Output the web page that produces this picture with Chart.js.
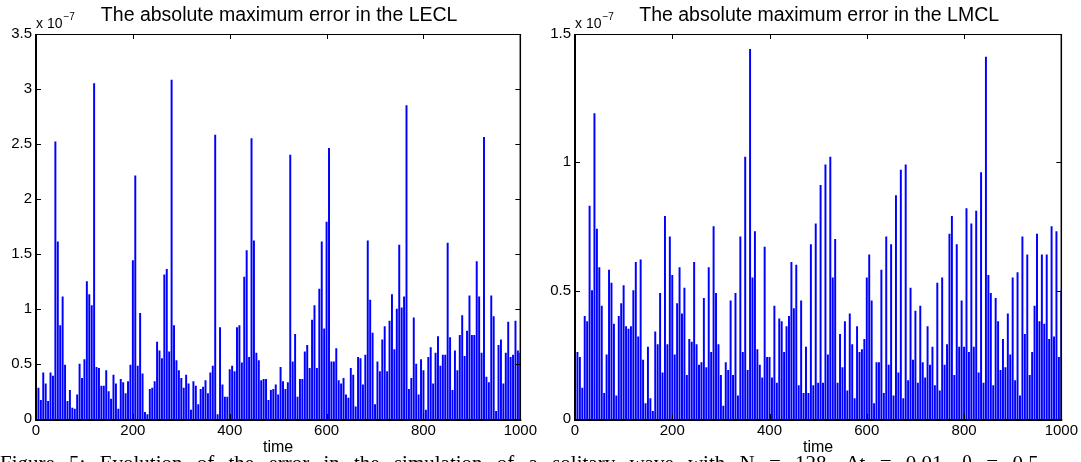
<!DOCTYPE html>
<html>
<head>
<meta charset="utf-8">
<script src="https://cdn.jsdelivr.net/npm/chart.js@4.4.1/dist/chart.umd.min.js"></script>
<style>
  body { margin: 0; background: #fff; width: 1081px; height: 462px; overflow: hidden; position: relative; }
  canvas { position: absolute; top: 0; }
  #leftChart { left: 0; }
  #rightChart { left: 540px; }
  #caption {
    position: absolute; left: 0; top: 453px; white-space: nowrap;
    font-family: "Liberation Serif", "DejaVu Serif", serif; font-size: 21px; line-height: 21px;
    word-spacing: 9px; color: #000;
  }
</style>
</head>
<body>
<canvas id="leftChart" width="540" height="462"></canvas>
<canvas id="rightChart" width="541" height="462"></canvas>
<div id="caption">Figure 5: Evolution of the error in the simulation of a solitary wave with N = 128, Δt = 0.01, θ = 0.5</div>
<script>
// time steps: one spike every 5 time units
const times = [];
for (let t = 5; t <= 1000; t += 5) times.push(t);

const xTicks = [0, 200, 400, 600, 800, 1000];
const leftTicks = [0, 0.5, 1, 1.5, 2, 2.5, 3, 3.5];
const rightTicks = [0, 0.5, 1, 1.5];

// absolute maximum error, units of 1e-7
const lecl = [
  0.28, 0.17, 0.42, 0.32, 0.16, 0.42, 0.39, 2.52, 1.61, 0.85,
  1.11, 0.49, 0.16, 0.26, 0.10, 0.09, 0.22, 0.50, 0.37, 0.54,
  1.25, 1.13, 1.03, 3.05, 0.47, 0.46, 0.30, 0.30, 0.44, 0.25,
  0.18, 0.40, 0.32, 0.09, 0.36, 0.33, 0.23, 0.34, 0.49, 1.44,
  2.21, 0.48, 0.96, 0.41, 0.06, 0.04, 0.27, 0.28, 0.34, 0.70,
  0.62, 0.55, 1.31, 1.36, 0.61, 3.08, 0.85, 0.53, 0.44, 0.37,
  0.28, 0.40, 0.32, 0.08, 0.34, 0.30, 0.13, 0.27, 0.29, 0.35,
  0.23, 0.42, 0.48, 2.58, 0.04, 0.83, 0.31, 0.20, 0.20, 0.45,
  0.48, 0.43, 0.83, 0.85, 0.51, 1.29, 1.53, 0.56, 2.55, 1.62,
  0.60, 0.53, 0.35, 0.36, 0.36, 0.17, 0.26, 0.27, 0.31, 0.22,
  0.47, 0.34, 0.27, 0.33, 2.40, 0.52, 0.77, 0.20, 0.36, 0.36,
  0.61, 0.67, 0.46, 0.90, 1.03, 0.46, 1.18, 1.61, 0.82, 1.79,
  2.46, 0.52, 0.52, 0.64, 0.35, 0.32, 0.37, 0.22, 0.19, 0.46,
  0.40, 0.11, 0.56, 0.55, 0.31, 0.58, 1.62, 1.08, 0.78, 0.13,
  0.52, 0.43, 0.72, 0.84, 0.43, 0.89, 1.13, 0.63, 1.00, 1.58,
  1.01, 1.11, 2.85, 0.27, 0.37, 0.92, 0.50, 0.22, 0.54, 0.44,
  0.08, 0.56, 0.65, 0.32, 0.60, 0.75, 0.48, 0.58, 0.58, 1.60,
  0.74, 0.26, 0.62, 0.44, 0.76, 0.94, 0.57, 0.80, 1.12, 0.76,
  0.76, 1.43, 1.11, 0.60, 2.56, 0.38, 0.33, 1.12, 0.93, 0.07,
  0.67, 0.72, 0.32, 0.60, 0.88, 0.56, 0.58, 0.89, 0.62, 0.60
];

const lmcl = [
  0.26, 0.24, 0.12, 0.40, 0.38, 0.83, 0.50, 1.19, 0.74, 0.59,
  0.44, 0.10, 0.25, 0.58, 0.53, 0.37, 0.09, 0.40, 0.45, 0.52,
  0.36, 0.35, 0.36, 0.50, 0.61, 0.32, 0.62, 0.23, 0.06, 0.28,
  0.08, 0.03, 0.34, 0.29, 0.49, 0.18, 0.79, 0.29, 0.71, 0.56,
  0.25, 0.45, 0.59, 0.41, 0.51, 0.17, 0.31, 0.30, 0.61, 0.29,
  0.21, 0.22, 0.47, 0.20, 0.59, 0.26, 0.75, 0.49, 0.29, 0.17,
  0.05, 0.22, 0.19, 0.46, 0.17, 0.49, 0.09, 0.71, 0.26, 1.02,
  0.19, 1.44, 0.55, 0.73, 0.27, 0.21, 0.16, 0.67, 0.24, 0.24,
  0.16, 0.44, 0.14, 0.39, 0.38, 0.26, 0.36, 0.40, 0.61, 0.43,
  0.60, 0.13, 0.46, 0.10, 0.28, 0.10, 0.68, 0.13, 0.76, 0.14,
  0.91, 0.14, 0.99, 0.25, 1.02, 0.55, 0.70, 0.14, 0.33, 0.20,
  0.38, 0.11, 0.41, 0.29, 0.08, 0.36, 0.26, 0.27, 0.31, 0.55,
  0.64, 0.46, 0.06, 0.22, 0.22, 0.58, 0.10, 0.71, 0.21, 0.68,
  0.09, 0.87, 0.18, 0.97, 0.08, 0.99, 0.15, 0.51, 0.23, 0.42,
  0.14, 0.44, 0.22, 0.16, 0.36, 0.21, 0.28, 0.13, 0.53, 0.11,
  0.55, 0.21, 0.29, 0.72, 0.79, 0.17, 0.68, 0.28, 0.46, 0.28,
  0.82, 0.26, 0.76, 0.28, 0.81, 0.18, 0.96, 0.14, 1.41, 0.56,
  0.49, 0.13, 0.47, 0.38, 0.19, 0.31, 0.20, 0.41, 0.25, 0.55,
  0.15, 0.57, 0.09, 0.71, 0.33, 0.64, 0.17, 0.26, 0.44, 0.72,
  0.38, 0.64, 0.37, 0.64, 0.31, 0.75, 0.32, 0.73, 0.24, 0.50
];

const FONT = "'Liberation Sans', Arial, Helvetica, sans-serif";
Chart.defaults.color = "#000";
Chart.defaults.font.family = FONT;

// MATLAB style box: frame, inward ticks on all sides, title and "x 10^-7" exponent
const matlabBox = {
  id: "matlabBox",
  afterDraw(chart, args, opts) {
    let ctx = chart.ctx;
    let a = chart.chartArea;
    let xs = chart.scales.x, ys = chart.scales.y;
    ctx.save();
    ctx.strokeStyle = "#000";
    ctx.lineWidth = 1;
    xs.ticks.forEach(t => {
      let px = Math.round(xs.getPixelForValue(t.value)) + 0.5;
      ctx.beginPath();
      ctx.moveTo(px, a.bottom); ctx.lineTo(px, a.bottom - 5);
      ctx.moveTo(px, a.top); ctx.lineTo(px, a.top + 5);
      ctx.stroke();
    });
    ys.ticks.forEach(t => {
      let py = Math.round(ys.getPixelForValue(t.value)) + 0.5;
      ctx.beginPath();
      ctx.moveTo(a.left, py); ctx.lineTo(a.left + 5, py);
      ctx.moveTo(a.right, py); ctx.lineTo(a.right - 5, py);
      ctx.stroke();
    });
    ctx.beginPath();
    ctx.moveTo(a.left, a.top + 0.5); ctx.lineTo(a.right, a.top + 0.5);
    ctx.stroke();
    ctx.lineWidth = 1.5;
    ctx.beginPath();
    ctx.moveTo(a.right, a.top); ctx.lineTo(a.right, a.bottom);
    ctx.stroke();
    ctx.lineWidth = 2;
    ctx.beginPath();
    ctx.moveTo(a.left, a.top); ctx.lineTo(a.left, a.bottom + 1);
    ctx.lineTo(a.right + 1, a.bottom + 1);
    ctx.stroke();

    ctx.fillStyle = "#000";
    ctx.textBaseline = "alphabetic";
    ctx.textAlign = "center";
    ctx.font = "19.5px " + FONT;
    ctx.fillText(opts.title, (a.left + a.right) / 2 + 1, 21);

    ctx.textAlign = "left";
    ctx.font = "14px " + FONT;
    ctx.fillText("x 10", a.left, a.top - 6);
    let w = ctx.measureText("x 10").width;
    ctx.font = "10px " + FONT;
    ctx.fillText("\u22127", a.left + w + 1, a.top - 14);
    ctx.restore();
  }
};

function plotPanel(canvasId, title, values, yTicks, yAxisWidth, rightPad) {
  let points = times.map((t, i) => ({ x: t, y: values[i] }));
  new Chart(document.getElementById(canvasId), {
    type: "bar",
    data: {
      datasets: [{
        data: points,
        backgroundColor: "rgb(0,0,255)",
        borderWidth: 0,
        barThickness: 1.3
      }]
    },
    options: {
      responsive: false,
      animation: false,
      devicePixelRatio: 1,
      layout: { padding: { top: 34, left: 0, bottom: 0, right: rightPad } },
      plugins: {
        legend: { display: false },
        tooltip: { enabled: false },
        title: { display: false },
        matlabBox: { title: title }
      },
      scales: {
        x: {
          type: "linear",
          min: xTicks[0],
          max: xTicks[xTicks.length - 1],
          offset: false,
          grid: { display: false, drawTicks: false, offset: false },
          border: { display: false },
          afterBuildTicks: s => { s.ticks = xTicks.map(v => ({ value: v })); },
          ticks: { font: { size: 15 }, padding: 3, maxRotation: 0, callback: v => String(v) },
          title: { display: true, text: "time", font: { size: 16 }, padding: { top: 0, bottom: 5 } },
          afterFit: s => { s.height = 43; }
        },
        y: {
          min: 0,
          max: yTicks[yTicks.length - 1],
          grid: { display: false, drawTicks: false },
          border: { display: false },
          afterBuildTicks: s => { s.ticks = yTicks.map(v => ({ value: v })); },
          ticks: { font: { size: 15 }, padding: 4, callback: v => String(v) },
          afterFit: s => { s.width = yAxisWidth; }
        }
      }
    },
    plugins: [matlabBox]
  });
}

plotPanel("leftChart", "The absolute maximum error in the LECL", lecl, leftTicks, 36, 16);
plotPanel("rightChart", "The absolute maximum error in the LMCL", lmcl, rightTicks, 35, 18);
</script>
</body>
</html>
